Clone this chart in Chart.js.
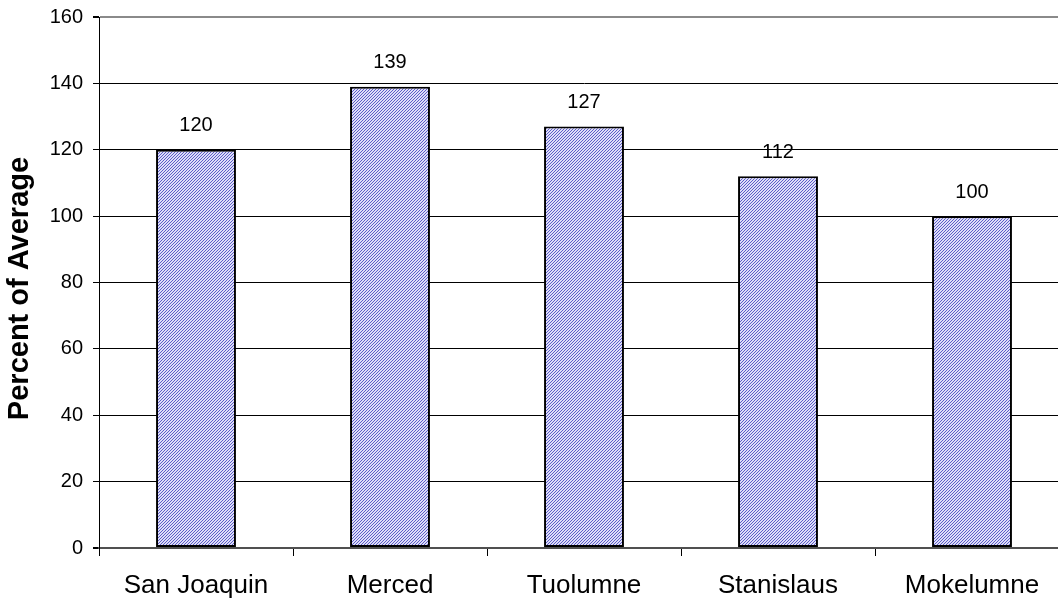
<!DOCTYPE html>
<html>
<head>
<meta charset="utf-8">
<script src="https://cdn.jsdelivr.net/npm/chart.js@4/dist/chart.umd.min.js"></script>
<style>
  html, body { margin: 0; padding: 0; background: #fff; overflow: hidden; width: 1058px; height: 602px; }
  #wrap { width: 1080px; height: 602px; }
</style>
</head>
<body>
<div id="wrap"><canvas id="c" width="1080" height="602"></canvas></div>
<script>
// Snowpack by river basin, percent of long-term average
const basins = ['San Joaquin', 'Merced', 'Tuolumne', 'Stanislaus', 'Mokelumne'];
const percentOfAverage = [120, 139, 127, 112, 100];
const yTicks = [0, 20, 40, 60, 80, 100, 120, 140, 160];
const yTitle = 'Percent of Average';

const FONT = '"Liberation Sans", Arial, sans-serif';

// Fine diagonal hatch fill for the bars (3px repeat, blue on pale lavender)
function makeHatch() {
  const t = document.createElement('canvas');
  t.width = 3; t.height = 3;
  const g = t.getContext('2d');
  g.fillStyle = '#dedef8';
  g.fillRect(0, 0, 3, 3);
  g.fillStyle = '#5c5cc8';
  for (let i = 0; i < 3; i++) g.fillRect(2 - i, i, 1, 1);
  return g.createPattern(t, 'repeat');
}

// Value labels above each bar and the rotated y-axis title
const chartText = {
  id: 'chartText',
  afterDatasetsDraw(chart) {
    const ctx = chart.ctx;
    const meta = chart.getDatasetMeta(0);
    ctx.save();
    ctx.font = '20px ' + FONT;
    ctx.fillStyle = '#000';
    ctx.textAlign = 'center';
    ctx.textBaseline = 'middle';
    meta.data.forEach((bar, i) => {
      ctx.fillText(String(percentOfAverage[i]), bar.x, bar.y - 24);
    });
    const ys = chart.scales.y;
    ctx.translate(20, (ys.top + ys.bottom) / 2 + 6);
    ctx.rotate(-Math.PI / 2);
    ctx.font = 'bold 29px ' + FONT;
    ctx.fillText(yTitle, 0, 0);
    ctx.restore();
  }
};

new Chart(document.getElementById('c'), {
  type: 'bar',
  data: {
    labels: basins,
    datasets: [{
      data: percentOfAverage,
      backgroundColor: makeHatch(),
      borderColor: '#000',
      borderWidth: 2,
      borderSkipped: false,
      barPercentage: 0.412,
      categoryPercentage: 1.0
    }]
  },
  options: {
    responsive: false,
    animation: false,
    devicePixelRatio: 1,
    layout: { padding: { top: 17, right: 11, left: 0, bottom: 0 } },
    plugins: { legend: { display: false }, tooltip: { enabled: false } },
    scales: {
      x: {
        afterFit(scale) { scale.height = 54; },
        grid: {
          drawOnChartArea: false,
          drawTicks: true,
          tickLength: 8,
          tickColor: '#000',
          offset: true
        },
        border: { display: true, color: '#505050', width: 2 },
        ticks: {
          color: '#000',
          font: { family: FONT, size: 26 },
          padding: 14,
          maxRotation: 0
        }
      },
      y: {
        min: 0,
        max: 160,
        afterFit(scale) {
          scale.width = 99;
          scale.paddingTop = 0;
          scale.paddingBottom = 0;
        },
        afterBuildTicks(scale) { scale.ticks = yTicks.map(v => ({ value: v })); },
        grid: {
          color: c => c.tick && c.tick.value === 160 ? '#8a8a8a' : (c.tick && c.tick.value === 0 ? '#505050' : '#000'),
          lineWidth: c => c.tick && (c.tick.value === 160 || c.tick.value === 0) ? 2 : 1,
          tickColor: '#000',
          tickLength: 6
        },
        border: { display: true, color: '#000', width: 1 },
        ticks: {
          color: '#000',
          font: { family: FONT, size: 20 },
          padding: 10
        }
      }
    }
  },
  plugins: [chartText]
});
</script>
</body>
</html>
